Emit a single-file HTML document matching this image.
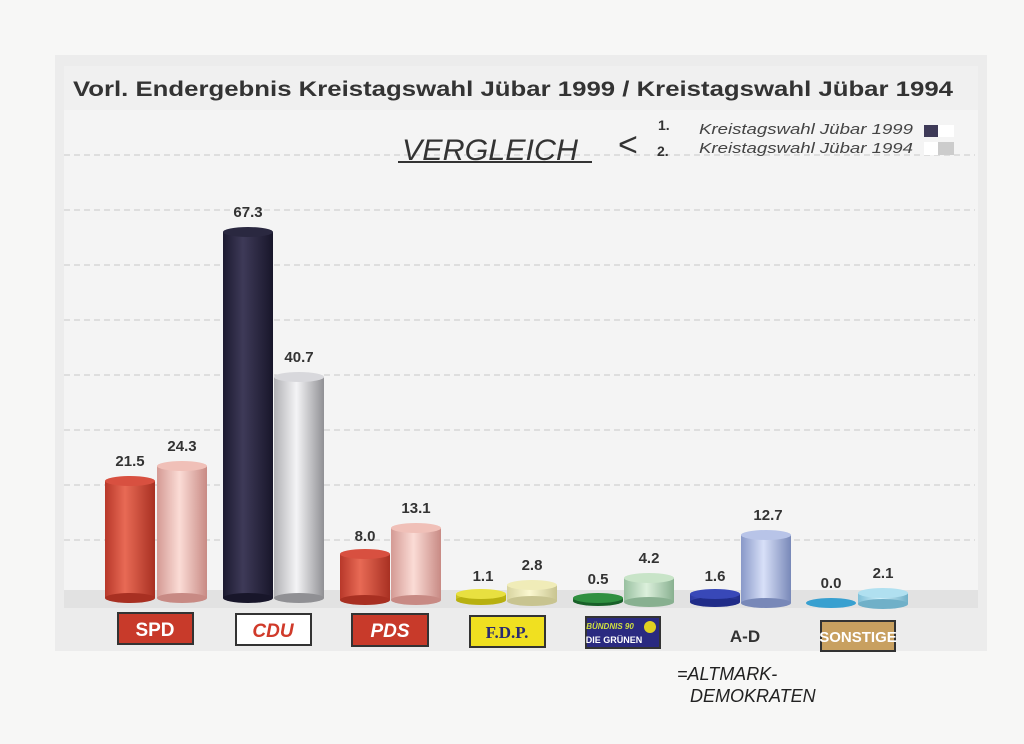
<!DOCTYPE html>
<html><head><meta charset="utf-8"><style>
body{margin:0;background:#f7f7f6;}
svg{display:block;font-family:"Liberation Sans",sans-serif;}
</style></head><body>
<svg width="1024" height="744" viewBox="0 0 1024 744">
<defs>
<linearGradient id="red" x1="0" x2="1"><stop offset="0" stop-color="#b8382a"/><stop offset=".4" stop-color="#e86a55"/><stop offset="1" stop-color="#a83022"/></linearGradient>
<linearGradient id="pink" x1="0" x2="1"><stop offset="0" stop-color="#d49a94"/><stop offset=".45" stop-color="#fbdcd6"/><stop offset="1" stop-color="#c88a84"/></linearGradient>
<linearGradient id="navy" x1="0" x2="1"><stop offset="0" stop-color="#1c1a30"/><stop offset=".4" stop-color="#3e3a58"/><stop offset="1" stop-color="#18162a"/></linearGradient>
<linearGradient id="grey" x1="0" x2="1"><stop offset="0" stop-color="#b0b0b4"/><stop offset=".45" stop-color="#f4f4f6"/><stop offset="1" stop-color="#909094"/></linearGradient>
<linearGradient id="yel" x1="0" x2="1"><stop offset="0" stop-color="#c8c020"/><stop offset=".4" stop-color="#f0ec60"/><stop offset="1" stop-color="#b8b010"/></linearGradient>
<linearGradient id="ltyel" x1="0" x2="1"><stop offset="0" stop-color="#d8d4a0"/><stop offset=".45" stop-color="#fbf8d0"/><stop offset="1" stop-color="#c8c490"/></linearGradient>
<linearGradient id="grn" x1="0" x2="1"><stop offset="0" stop-color="#207030"/><stop offset=".4" stop-color="#40a050"/><stop offset="1" stop-color="#186028"/></linearGradient>
<linearGradient id="ltgrn" x1="0" x2="1"><stop offset="0" stop-color="#98c0a0"/><stop offset=".45" stop-color="#dcf0dc"/><stop offset="1" stop-color="#88b090"/></linearGradient>
<linearGradient id="blu" x1="0" x2="1"><stop offset="0" stop-color="#2a38a0"/><stop offset=".4" stop-color="#5060d0"/><stop offset="1" stop-color="#202c88"/></linearGradient>
<linearGradient id="ltblu" x1="0" x2="1"><stop offset="0" stop-color="#8898c8"/><stop offset=".45" stop-color="#d8e0f8"/><stop offset="1" stop-color="#7888b8"/></linearGradient>
<linearGradient id="ltcy" x1="0" x2="1"><stop offset="0" stop-color="#80c0d8"/><stop offset=".45" stop-color="#d0f0fa"/><stop offset="1" stop-color="#70b0c8"/></linearGradient>
</defs>
<rect x="55" y="55" width="932" height="596" fill="#ececec"/>
<rect x="64" y="66" width="914" height="44" fill="#f0f0f0"/>
<text x="73" y="96" font-size="21" font-weight="bold" fill="#333" textLength="880" lengthAdjust="spacingAndGlyphs">Vorl. Endergebnis Kreistagswahl Jübar 1999 / Kreistagswahl Jübar 1994</text>
<rect x="64" y="110" width="914" height="480" fill="#f4f4f4"/>
<g stroke="#c8c8c8" stroke-dasharray="6,4" stroke-width="1">
<line x1="64" y1="155" x2="975" y2="155"/><line x1="64" y1="210" x2="975" y2="210"/><line x1="64" y1="265" x2="975" y2="265"/><line x1="64" y1="320" x2="975" y2="320"/><line x1="64" y1="375" x2="975" y2="375"/><line x1="64" y1="430" x2="975" y2="430"/><line x1="64" y1="485" x2="975" y2="485"/><line x1="64" y1="540" x2="975" y2="540"/>
</g>
<polygon points="64,590 978,590 978,608 64,608" fill="#e2e2e2"/>
<text x="402" y="160" font-size="30" fill="#333" font-style="italic" textLength="176" lengthAdjust="spacingAndGlyphs">VERGLEICH</text>
<line x1="398" y1="162" x2="592" y2="162" stroke="#333" stroke-width="2"/>
<text x="618" y="156" font-size="34" fill="#333">&lt;</text>
<text x="658" y="130" font-size="14" font-weight="bold" fill="#333">1.</text>
<text x="657" y="156" font-size="14" font-weight="bold" fill="#333">2.</text>
<text x="699" y="134" font-size="15" font-style="italic" fill="#444" textLength="214" lengthAdjust="spacingAndGlyphs">Kreistagswahl Jübar 1999</text>
<text x="699" y="153" font-size="15" font-style="italic" fill="#444" textLength="214" lengthAdjust="spacingAndGlyphs">Kreistagswahl Jübar 1994</text>
<rect x="924" y="125" width="14" height="12" fill="#3e3a58"/><rect x="938" y="125" width="16" height="12" fill="#fff"/>
<rect x="924" y="142" width="14" height="13" fill="#fff"/><rect x="938" y="142" width="16" height="13" fill="#ccc"/>
<g font-size="15" font-weight="bold" fill="#333" text-anchor="middle">
<rect x="105" y="481" width="50" height="117" fill="url(#red)"/><ellipse cx="130" cy="598" rx="25" ry="5" fill="#a83022"/><ellipse cx="130" cy="481" rx="25" ry="5" fill="#d85040"/>
<rect x="157" y="466" width="50" height="132" fill="url(#pink)"/><ellipse cx="182" cy="598" rx="25" ry="5" fill="#c88a84"/><ellipse cx="182" cy="466" rx="25" ry="5" fill="#f0c0b8"/>
<rect x="223" y="232" width="50" height="366" fill="url(#navy)"/><ellipse cx="248" cy="598" rx="25" ry="5" fill="#18162a"/><ellipse cx="248" cy="232" rx="25" ry="5" fill="#2a2840"/>
<rect x="274" y="377" width="50" height="221" fill="url(#grey)"/><ellipse cx="299" cy="598" rx="25" ry="5" fill="#909094"/><ellipse cx="299" cy="377" rx="25" ry="5" fill="#d8d8dc"/>
<rect x="340" y="554" width="50" height="46" fill="url(#red)"/><ellipse cx="365" cy="600" rx="25" ry="5" fill="#a83022"/><ellipse cx="365" cy="554" rx="25" ry="5" fill="#d85040"/>
<rect x="391" y="528" width="50" height="72" fill="url(#pink)"/><ellipse cx="416" cy="600" rx="25" ry="5" fill="#c88a84"/><ellipse cx="416" cy="528" rx="25" ry="5" fill="#f0c0b8"/>
<rect x="456" y="594" width="50" height="6" fill="url(#yel)"/><ellipse cx="481" cy="600" rx="25" ry="5" fill="#b8b010"/><ellipse cx="481" cy="594" rx="25" ry="5" fill="#e8e040"/>
<rect x="507" y="585" width="50" height="16" fill="url(#ltyel)"/><ellipse cx="532" cy="601" rx="25" ry="5" fill="#c8c490"/><ellipse cx="532" cy="585" rx="25" ry="5" fill="#f0ecb8"/>
<rect x="573" y="598" width="50" height="3" fill="url(#grn)"/><ellipse cx="598" cy="601" rx="25" ry="5" fill="#186028"/><ellipse cx="598" cy="598" rx="25" ry="5" fill="#309040"/>
<rect x="624" y="578" width="50" height="24" fill="url(#ltgrn)"/><ellipse cx="649" cy="602" rx="25" ry="5" fill="#88b090"/><ellipse cx="649" cy="578" rx="25" ry="5" fill="#c8e4c8"/>
<rect x="690" y="594" width="50" height="8" fill="url(#blu)"/><ellipse cx="715" cy="602" rx="25" ry="5" fill="#202c88"/><ellipse cx="715" cy="594" rx="25" ry="5" fill="#3848b8"/>
<rect x="741" y="535" width="50" height="68" fill="url(#ltblu)"/><ellipse cx="766" cy="603" rx="25" ry="5" fill="#7888b8"/><ellipse cx="766" cy="535" rx="25" ry="5" fill="#b8c4e8"/>
<ellipse cx="831" cy="603" rx="25" ry="5" fill="#38a0d0"/>
<rect x="858" y="593" width="50" height="11" fill="url(#ltcy)"/><ellipse cx="883" cy="604" rx="25" ry="5" fill="#70b0c8"/><ellipse cx="883" cy="593" rx="25" ry="5" fill="#b0e0f0"/>
<text x="130" y="466">21.5</text><text x="182" y="451">24.3</text>
<text x="248" y="217">67.3</text><text x="299" y="362">40.7</text>
<text x="365" y="541">8.0</text><text x="416" y="513">13.1</text>
<text x="483" y="581">1.1</text><text x="532" y="570">2.8</text>
<text x="598" y="584">0.5</text><text x="649" y="563">4.2</text>
<text x="715" y="581">1.6</text><text x="768" y="520">12.7</text>
<text x="831" y="588">0.0</text><text x="883" y="578">2.1</text>
</g>
<g font-weight="bold" text-anchor="middle">
<rect x="118" y="613" width="75" height="31" fill="#c83a2a" stroke="#333" stroke-width="2"/><text x="155" y="636" font-size="19" fill="#fff">SPD</text>
<rect x="236" y="614" width="75" height="31" fill="#fff" stroke="#333" stroke-width="2"/><text x="273" y="637" font-size="19" fill="#d03a2a" font-style="italic">CDU</text>
<rect x="352" y="614" width="76" height="32" fill="#c83a2a" stroke="#333" stroke-width="2"/><text x="390" y="637" font-size="19" fill="#fff" font-style="italic">PDS</text>
<rect x="470" y="616" width="75" height="31" fill="#f0e020" stroke="#333" stroke-width="2"/><text x="507" y="638" font-size="17" fill="#2a2a70" font-family="Liberation Serif">F.D.P.</text>
<rect x="586" y="617" width="74" height="31" fill="#2a2a80" stroke="#333" stroke-width="2"/><text x="610" y="629" font-size="8" fill="#d0e040" font-style="italic">BÜNDNIS 90</text><text x="614" y="643" font-size="9" fill="#fff">DIE GRÜNEN</text><circle cx="650" cy="627" r="6" fill="#e0d020"/>
<text x="745" y="642" font-size="17" fill="#333">A-D</text>
<rect x="821" y="621" width="74" height="30" fill="#c8a060" stroke="#333" stroke-width="2"/><text x="858" y="642" font-size="15" fill="#fff">SONSTIGE</text>
</g>
<text x="677" y="680" font-size="18" fill="#222" font-style="italic">=ALTMARK-</text>
<text x="690" y="702" font-size="18" fill="#222" font-style="italic">DEMOKRATEN</text>
</svg>
</body></html>
